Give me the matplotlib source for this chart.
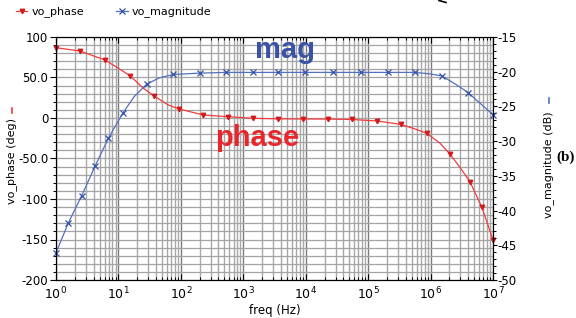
# vo_phase / vo_magnitude bode plot, panel (b)

import matplotlib.pyplot as plt
from matplotlib.lines import Line2D
from matplotlib.ticker import MultipleLocator, FixedLocator, NullFormatter

plt.rcParams['axes.unicode_minus'] = False

# vo_phase trace
phase_freq = [1, 2.42, 6.1, 10, 15.3, 25.1, 37.2, 63.1, 94.4, 229, 575, 1450,
              3550, 9120, 22400, 55000, 138000, 331000, 562000, 871000,
              1410000, 2040000, 3020000, 4270000, 6610000, 8130000, 10000000]
phase_deg = [86.8, 82.7, 71.6, 61.3, 52.2, 36.7, 27.2, 16.0, 11.1, 3.7, 1.6, -0.4,
             -1.0, -1.2, -1.3, -1.8, -3.7, -7.8, -13.5, -18.9,
             -31.0, -44.4, -62.0, -78.6, -110.0, -130.0, -150.6]
phase_marks = [0, 1, 2, 4, 6, 8, 9, 10, 11, 12, 13, 14, 15, 16, 17, 19, 21, 23, 24, 26]

# vo_magnitude trace (dB)
mag_freq = [1, 1.57, 2.57, 4.22, 6.89, 11.7, 17.8, 28.4, 44.7, 75.7, 203, 525,
            1410, 3630, 9770, 27500, 75900, 209000, 562000, 955000, 1510000,
            2510000, 3980000, 6310000, 10000000]
mag_db = [-46.1, -41.8, -37.9, -33.6, -29.6, -26.0, -23.6, -21.8, -20.9, -20.4, -20.2, -20.1,
          -20.1, -20.1, -20.1, -20.1, -20.1, -20.1, -20.1, -20.3, -20.6,
          -21.8, -23.0, -24.6, -26.2]
mag_marks = [0, 1, 2, 3, 4, 5, 7, 9, 10, 11, 12, 13, 14, 15, 16, 17, 18, 20, 22, 24]

left_ticks = [100, 50, 0, -50, -100, -150, -200]
left_labels = ['100', '50.0', '0', '-50.0', '-100', '-150', '-200']
right_ticks = [-15, -20, -25, -30, -35, -40, -45, -50]
right_labels = ['-15', '-20', '-25', '-30', '-35', '-40', '-45', '-50']
x_ticks = [1e0, 1e1, 1e2, 1e3, 1e4, 1e5, 1e6, 1e7]
x_labels = ['$10^{%d}$' % i for i in range(8)]

W, H = 576, 318


def fx(x):
    return x / W


def fy(y):
    return 1 - y / H


red_line = '#f03c3c'
red_mark = '#d41a1a'
blue_line = '#5470c0'
blue_mark = '#3552a8'

fig = plt.figure(figsize=(5.76, 3.18), dpi=100)
ax = fig.add_axes([fx(56), fy(280), fx(493) - fx(56), fy(37) - fy(280)])
ax2 = ax.twinx()

ax.set_xscale('log')
ax.set_xlim(1, 1e7)
ax.set_ylim(-200, 100)
ax2.set_ylim(-50, -15)

# grid
ax.set_axisbelow(True)
ax.grid(which='major', axis='x', color='#7c7c7c', lw=1.0)
ax.grid(which='minor', axis='x', color='#a8a8a8', lw=1.0)
ax.yaxis.set_minor_locator(MultipleLocator(10))
ax.grid(which='both', axis='y', color='#a4a4a4', lw=0.9)

ax.plot(phase_freq, phase_deg, color=red_line, lw=0.9, marker='v', ms=3.2,
        mfc=red_mark, mec=red_mark, markevery=phase_marks, clip_on=False)
ax2.plot(mag_freq, mag_db, color=blue_line, lw=0.9, marker='x', ms=5, mew=0.9,
         mec=blue_mark, markevery=mag_marks, clip_on=False)

# ticks
ax.set_xticks(x_ticks)
ax.set_xticklabels(x_labels)
ax.xaxis.set_minor_formatter(NullFormatter())
ax.tick_params(axis='x', which='major', direction='in', top=True, length=4,
               width=0.8, labelsize=9, pad=4)
ax.tick_params(axis='x', which='minor', direction='in', top=True, length=2.5, width=0.7)

ax.set_yticks(left_ticks)
ax.set_yticklabels(left_labels)
ax.tick_params(axis='y', which='major', direction='out', length=4.5, width=0.8,
               labelsize=8.5, pad=1)
ax.tick_params(axis='y', which='minor', direction='out', length=2.2, width=0.7)

ax2.yaxis.set_major_locator(FixedLocator(right_ticks))
ax2.set_yticklabels(right_labels)
ax2.yaxis.set_minor_locator(MultipleLocator(1))
ax2.tick_params(axis='y', which='major', direction='out', length=3, width=0.8,
                labelsize=8.5, pad=0)
ax2.tick_params(axis='y', which='minor', direction='out', length=2, width=0.7)

for a in (ax, ax2):
    for s in a.spines.values():
        s.set_linewidth(0.8)

ax.set_xlabel('freq (Hz)', fontsize=8.5, labelpad=1)

# axis titles with their trace marks
fig.text(fx(12), fy(161), 'vo_phase (deg)', rotation=90, ha='center', va='center', fontsize=8)
fig.add_artist(Line2D([fx(12), fx(12)], [fy(108), fy(113)], color=red_line, lw=1.2))
fig.text(fx(549), fy(165), 'vo_magnitude (dB)', rotation=90, ha='center', va='center', fontsize=8)
fig.add_artist(Line2D([fx(549), fx(549)], [fy(98), fy(103)], color=blue_line, lw=1.2))

# in-plot annotations
fig.text(fx(285), fy(58), 'mag', ha='center', va='baseline', fontsize=21,
         fontweight='bold', family='Liberation Sans', color='#3a52a6')
fig.text(fx(257), fy(146), 'phase', ha='center', va='baseline', fontsize=21,
         fontweight='bold', family='Liberation Sans', color='#e8262b')
fig.text(fx(566), fy(157), '(b)', ha='center', va='center', fontsize=11,
         fontweight='bold', family='Liberation Serif')

# clipped fragment at the top edge
fig.add_artist(Line2D([fx(439), fx(446)], [fy(0.5), fy(2.5)], color='black', lw=1.2))

handles = [Line2D([], [], color=red_line, lw=0.9, marker='v', ms=3.2, mfc=red_mark, mec=red_mark),
           Line2D([], [], color=blue_line, lw=0.9, marker='x', ms=5, mew=0.9, mec=blue_mark)]
fig.legend(handles, ['vo_phase', 'vo_magnitude'], loc='center left',
           bbox_to_anchor=(fx(16), fy(12)), ncol=2, frameon=False, fontsize=8,
           handlelength=1.0, handletextpad=0.4, columnspacing=2.9,
           borderpad=0, borderaxespad=0)

fig.savefig('out.png', dpi=100)
